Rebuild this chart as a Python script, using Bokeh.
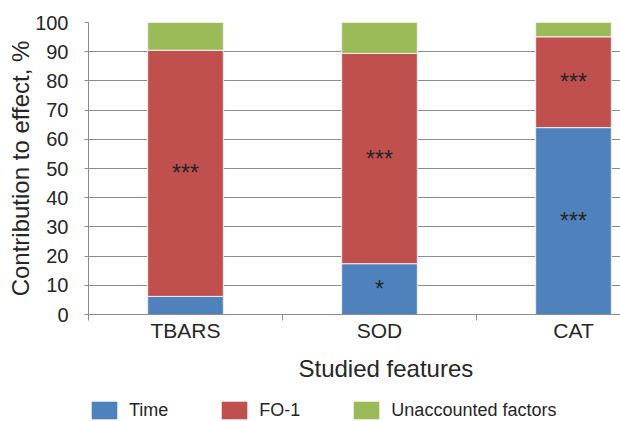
from bokeh.plotting import figure
from bokeh.layouts import column
from bokeh.models import Range1d, FixedTicker, ColumnDataSource, Legend, LegendItem, Title
from bokeh.core.properties import value
from bokeh.embed import file_html
from bokeh.resources import INLINE

categories = ["TBARS", "SOD", "CAT"]
time_vals = [6.2, 17.4, 64.0]
fo1_vals = [84.3, 72.0, 31.1]
unacc_vals = [9.5, 10.6, 4.9]
time_marks = ["", "*", "***"]
fo1_marks = ["***", "***", "***"]
unacc_marks = ["", "", ""]
series_names = ["Time", "FO-1", "Unaccounted factors"]
colors = ["#4F81BD", "#C0504D", "#9BBB59"]
y_ticks = list(range(0, 101, 10))

FONT = "Liberation Sans"
TXT = "#262626"
GRID = "#8c8c8c"
W = 620
LEFT = 88
CAT_PX = 194
X_END = (W - LEFT) / CAT_PX

xs = [i + 0.5 for i in range(len(categories))]

p = figure(width=W, height=398, x_range=Range1d(0, X_END), y_range=Range1d(0, 100),
           output_backend="svg", toolbar_location=None,
           min_border_left=LEFT, min_border_right=0, min_border_top=22, min_border_bottom=84)
p.outline_line_color = None
p.background_fill_color = "white"
p.border_fill_color = "white"

src = ColumnDataSource(dict(x=xs, Time=time_vals, FO1=fo1_vals, Unacc=unacc_vals))
renderers = p.vbar_stack(["Time", "FO1", "Unacc"], x="x", width=0.39, fill_color=colors,
                         line_color="#f0f0f0", line_width=1, source=src)

bottoms = [0.0] * len(categories)
for vals, marks in zip([time_vals, fo1_vals, unacc_vals], [time_marks, fo1_marks, unacc_marks]):
    ys = [b + v / 2 for b, v in zip(bottoms, vals)]
    p.text(x=xs, y=ys, text=marks, text_font=value(FONT), text_font_size="23px",
           text_color=TXT, text_align="center", text_baseline="middle")
    bottoms = [b + v for b, v in zip(bottoms, vals)]

# y axis
p.yaxis.ticker = FixedTicker(ticks=y_ticks)
p.yaxis.axis_line_color = GRID
p.yaxis.major_tick_line_color = GRID
p.yaxis.major_tick_in = 0
p.yaxis.major_tick_out = 4
p.yaxis.minor_tick_line_color = None
p.yaxis.major_label_standoff = 16
p.yaxis.major_label_text_font = FONT
p.yaxis.major_label_text_font_size = "20px"
p.yaxis.major_label_text_color = TXT
p.yaxis.axis_label = "Contribution to effect, %"
p.yaxis.axis_label_text_font = FONT
p.yaxis.axis_label_text_font_size = "24px"
p.yaxis.axis_label_text_font_style = "normal"
p.yaxis.axis_label_text_color = TXT
p.yaxis.axis_label_standoff = -2

# x axis
p.xaxis.ticker = FixedTicker(ticks=xs, minor_ticks=list(range(len(categories) + 1)))
p.xaxis.major_label_overrides = {x: c for x, c in zip(xs, categories)}
p.xaxis.axis_line_color = GRID
p.xaxis.major_tick_line_color = None
p.xaxis.major_tick_in = 0
p.xaxis.major_tick_out = 0
p.xaxis.minor_tick_line_color = GRID
p.xaxis.minor_tick_in = 0
p.xaxis.minor_tick_out = 6
p.xaxis.major_label_standoff = -2
p.xaxis.major_label_text_font = FONT
p.xaxis.major_label_text_font_size = "21px"
p.xaxis.major_label_text_color = TXT

p.xgrid.visible = False
p.ygrid.grid_line_color = GRID
p.ygrid.grid_line_width = 1

# axis title, centred on the middle category as in the reference
x_title = Title(text="Studied features", align="left", offset=1.5 * CAT_PX - 81,
                standoff=17, text_font=FONT, text_font_size="24px",
                text_font_style="normal", text_color=TXT)
p.add_layout(x_title, "below")

# legend strip below the chart
pl = figure(width=W, height=23, x_range=Range1d(0, 1), y_range=Range1d(0, 1),
            output_backend="svg", toolbar_location=None, x_axis_type=None, y_axis_type=None,
            min_border_left=82, min_border_right=0, min_border_top=0, min_border_bottom=0)
pl.outline_line_color = None
pl.background_fill_color = "white"
pl.border_fill_color = "white"
pl.xgrid.visible = False
pl.ygrid.visible = False
# legend swatches only (their single bar lies outside the visible range)
leg_renderers = [pl.vbar(x=[0.5], top=[-1], bottom=[-2], width=0.1, fill_color=c, line_color=None)
                 for c in colors]
legend = Legend(items=[LegendItem(label=n, renderers=[r]) for n, r in zip(series_names, leg_renderers)],
                orientation="horizontal", location="bottom_left", padding=0, margin=0,
                spacing=50, glyph_width=32, glyph_height=22, label_height=18,
                label_standoff=9, label_text_font=FONT, label_text_font_size="18px",
                label_text_color=TXT, border_line_color=None, background_fill_alpha=0)
pl.add_layout(legend)

layout = column(p, pl, spacing=0)
open("out.html", "w").write(file_html(layout, INLINE))
